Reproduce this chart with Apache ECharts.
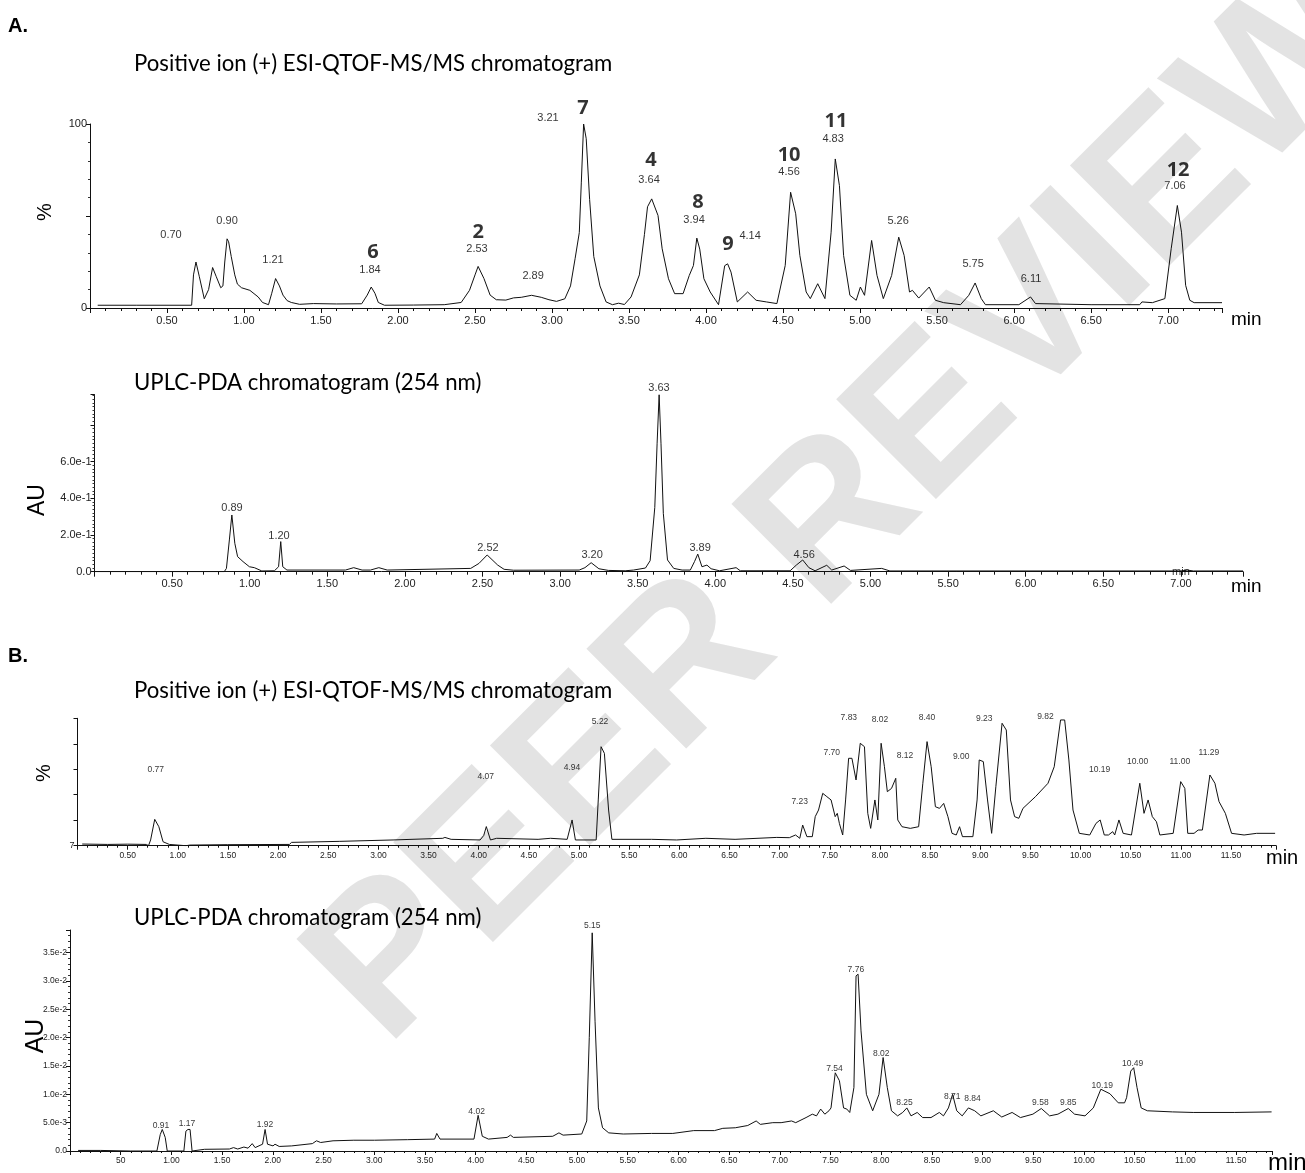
<!DOCTYPE html>
<html><head><meta charset="utf-8">
<script src="https://cdn.jsdelivr.net/npm/echarts@6/dist/echarts.min.js"></script>
<style>html,body{margin:0;padding:0;background:#fff}#c{width:1305px;height:1173px}</style>
</head><body><div id="c"></div>
<script>
// ---------- DATA ----------
// Panel A, positive ion ESI-QTOF-MS/MS chromatogram: [time (min), relative intensity (%)]
const aMs = [[0.05,1.5],[0.3,1.5],[0.5,1.5],[0.66,1.5],[0.672,18],[0.688,25],[0.71,17],[0.742,5],[0.77,10],[0.796,22],[0.82,17],[0.849,11],[0.863,12],[0.875,25],[0.89,37.6],[0.90,36],[0.917,28],[0.94,18],[0.957,13],[0.984,11],[1.038,9.6],[1.092,6],[1.12,3],[1.159,1.8],[1.18,8],[1.205,16],[1.23,12],[1.253,7],[1.28,4],[1.307,3],[1.361,2],[1.45,2.4],[1.6,2.2],[1.764,2.3],[1.80,7],[1.826,11.4],[1.85,8],[1.872,3],[1.912,1.5],[2.1,1.6],[2.3,1.8],[2.41,3],[2.464,9.6],[2.50,18],[2.52,22.6],[2.558,16],[2.598,7],[2.638,4.5],[2.70,4.3],[2.75,5.5],[2.80,5.8],[2.867,6.9],[2.93,5.8],[2.98,4.5],[3.029,3.6],[3.083,5],[3.12,12],[3.15,27],[3.177,41],[3.19,68],[3.205,100],[3.222,92],[3.244,59],[3.271,28],[3.311,12],[3.351,3.3],[3.392,1.8],[3.432,2.6],[3.47,1.9],[3.513,6],[3.567,18],[3.60,40],[3.62,55],[3.647,59.3],[3.688,50.3],[3.715,32.2],[3.756,15.9],[3.796,7.8],[3.851,7.8],[3.891,17.7],[3.918,23.1],[3.94,38],[3.959,32],[3.986,15.9],[4.027,8.7],[4.081,1.8],[4.121,23],[4.14,24],[4.162,19.5],[4.203,3.3],[4.27,8.7],[4.325,4.2],[4.392,3.3],[4.46,2.4],[4.514,23.1],[4.549,62.9],[4.582,51.2],[4.609,28.6],[4.65,8.7],[4.677,5.1],[4.725,13.2],[4.772,5.1],[4.812,41.2],[4.839,81],[4.866,66.5],[4.893,28.6],[4.934,6.9],[4.975,4.2],[5.002,11.4],[5.029,6.9],[5.075,36.7],[5.11,17.7],[5.151,5.1],[5.205,17.7],[5.251,38.5],[5.286,28.6],[5.321,8.7],[5.34,9.6],[5.381,5.4],[5.449,11.4],[5.489,4.2],[5.543,2.9],[5.652,1.8],[5.706,6.9],[5.747,13.6],[5.787,5.1],[5.814,1.8],[6.031,1.8],[6.107,6],[6.139,2.4],[6.5,1.8],[6.816,1.8],[6.83,3.3],[6.898,2.9],[6.979,5.1],[7.02,32.2],[7.06,55.7],[7.087,41.2],[7.114,12.3],[7.141,4.2],[7.169,2.9],[7.35,2.9]];
// Panel A, UPLC-PDA chromatogram (254 nm): [time (min), absorbance (AU)]
const aPda = [[0.0,0],[0.5,0],[0.836,0],[0.85,0.018],[0.869,0.173],[0.885,0.309],[0.904,0.155],[0.922,0.082],[0.957,0.055],[0.998,0.027],[1.03,0.022],[1.078,0.004],[1.159,0.005],[1.186,0.027],[1.20,0.164],[1.213,0.027],[1.24,0.009],[1.617,0.009],[1.67,0.022],[1.724,0.009],[1.778,0.009],[1.832,0.022],[1.886,0.009],[2.424,0.018],[2.477,0.045],[2.53,0.091],[2.598,0.036],[2.639,0.013],[2.7,0.008],[3.123,0.009],[3.16,0.022],[3.20,0.049],[3.25,0.016],[3.311,0.007],[3.419,0.005],[3.473,0.009],[3.55,0.02],[3.58,0.06],[3.61,0.35],[3.625,0.7],[3.638,0.964],[3.65,0.7],[3.665,0.318],[3.692,0.064],[3.732,0.018],[3.786,0.009],[3.839,0.009],[3.866,0.055],[3.887,0.096],[3.914,0.027],[3.946,0.036],[3.973,0.016],[4.027,0.005],[4.134,0.022],[4.161,0.005],[4.482,0.005],[4.522,0.036],[4.563,0.064],[4.603,0.022],[4.643,0.005],[4.718,0.035],[4.75,0.009],[4.83,0.031],[4.871,0.007],[5.072,0.018],[5.125,0.004],[7.0,0.004],[7.04,0.009],[7.08,0.004],[7.4,0.004]];
// Panel B, positive ion ESI-QTOF-MS/MS chromatogram: [time (min), relative intensity (%)]
const bMs = [[0.047,1.3],[0.3,1.0],[0.5,1.2],[0.687,1.0],[0.708,0],[0.729,4.5],[0.77,20.7],[0.811,14.9],[0.853,3.1],[0.915,1.0],[1.08,0],[1.121,0.5],[1.493,0.8],[2.113,1.0],[2.134,2.6],[2.609,3.4],[3.146,4.5],[3.642,5.8],[3.663,6.5],[3.725,5.0],[4.014,4.5],[4.05,8],[4.076,15],[4.117,4.5],[4.179,5.8],[4.592,5.0],[4.716,5.8],[4.882,5.0],[4.931,20.2],[4.964,4.5],[5.171,4.5],[5.192,35.9],[5.22,77.7],[5.253,72.5],[5.295,28],[5.328,5.0],[5.724,5.0],[5.974,4.5],[6.265,5.8],[6.556,5.0],[6.972,6.5],[7.097,6.3],[7.159,8.4],[7.201,5.8],[7.23,16.2],[7.272,7.1],[7.326,7.1],[7.355,22.8],[7.388,28],[7.43,41.1],[7.471,38.5],[7.513,35.9],[7.554,22.8],[7.575,25.4],[7.596,17.5],[7.629,8.4],[7.658,35.9],[7.688,68.6],[7.721,68.6],[7.762,51.6],[7.804,80.4],[7.846,77.7],[7.879,25.4],[7.908,13.6],[7.95,35.9],[7.979,20.2],[8.012,80.4],[8.045,62],[8.074,42.4],[8.116,45],[8.158,52.9],[8.178,20.2],[8.22,14.9],[8.303,13.6],[8.386,14.9],[8.428,49],[8.47,81.7],[8.511,62],[8.553,30.6],[8.594,29.3],[8.636,33.2],[8.678,22.8],[8.719,9.7],[8.761,8.4],[8.794,14.9],[8.823,7.1],[8.927,7.1],[8.969,35.9],[8.99,67.3],[9.031,66],[9.073,35.9],[9.114,9.7],[9.156,46.3],[9.218,96.1],[9.26,90.8],[9.302,35.9],[9.343,22.8],[9.385,21.5],[9.426,29.3],[9.551,38.5],[9.676,49],[9.738,62],[9.801,98.7],[9.842,98.7],[9.884,67.3],[9.925,28],[9.988,9.7],[10.092,8.4],[10.154,17.5],[10.196,20.2],[10.237,8.4],[10.279,8.4],[10.321,11],[10.341,8.4],[10.383,20.2],[10.425,9.7],[10.508,8.4],[10.591,49],[10.633,25.4],[10.674,35.9],[10.716,22.8],[10.757,18.8],[10.791,8.4],[10.924,9.7],[10.999,50.3],[11.04,45],[11.069,9.7],[11.132,9.7],[11.173,12.3],[11.215,12.3],[11.29,55.5],[11.34,49],[11.381,34.6],[11.444,25.4],[11.506,9.7],[11.631,8.4],[11.756,9.7],[11.94,9.7]];
// Panel B, UPLC-PDA chromatogram (254 nm): [time (min), absorbance (AU)]
const bPda = [[0.08,0.0001],[0.3,0.0001],[0.6,0],[0.857,0],[0.869,0.0002],[0.89,0.0029],[0.91,0.0038],[0.939,0.0024],[0.959,0],[1.123,0],[1.143,0.0035],[1.163,0.0038],[1.184,0.0038],[1.204,0],[1.327,0.0003],[1.572,0.00035],[1.613,0.0006],[1.654,0.00035],[1.715,0.0007],[1.756,0.0005],[1.797,0.0013],[1.826,0.0006],[1.899,0.0012],[1.924,0.0038],[1.948,0.0012],[2.002,0.0009],[2.022,0.0012],[2.063,0.0008],[2.186,0.0009],[2.39,0.0013],[2.431,0.0018],[2.472,0.0015],[2.594,0.0018],[2.799,0.0019],[3.003,0.0019],[3.33,0.002],[3.596,0.0021],[3.617,0.0031],[3.649,0.0021],[3.984,0.0021],[4.025,0.0063],[4.066,0.0026],[4.127,0.0021],[4.311,0.0024],[4.344,0.0028],[4.373,0.0024],[4.761,0.0026],[4.822,0.0032],[4.863,0.0028],[5.047,0.003],[5.096,0.0053],[5.121,0.02],[5.15,0.0385],[5.178,0.0229],[5.211,0.0076],[5.252,0.0041],[5.313,0.0032],[5.456,0.003],[5.734,0.0031],[5.945,0.0031],[6.151,0.0036],[6.356,0.0036],[6.438,0.004],[6.561,0.0041],[6.684,0.0045],[6.767,0.0053],[6.808,0.0047],[6.931,0.005],[7.013,0.005],[7.116,0.0053],[7.157,0.005],[7.259,0.0059],[7.321,0.0065],[7.362,0.0062],[7.403,0.0074],[7.444,0.0065],[7.485,0.0071],[7.505,0.0076],[7.547,0.0138],[7.588,0.0124],[7.629,0.0076],[7.661,0.0074],[7.69,0.0068],[7.731,0.0112],[7.752,0.0309],[7.772,0.0312],[7.801,0.0212],[7.854,0.01],[7.916,0.0071],[7.978,0.01],[8.019,0.0165],[8.06,0.0112],[8.101,0.0071],[8.162,0.0062],[8.212,0.0068],[8.253,0.0076],[8.294,0.0062],[8.355,0.0068],[8.409,0.0059],[8.491,0.0059],[8.573,0.0068],[8.614,0.0062],[8.663,0.0076],[8.704,0.01],[8.745,0.0071],[8.799,0.0062],[8.86,0.0076],[8.922,0.0071],[8.983,0.0062],[9.106,0.0071],[9.189,0.006],[9.291,0.0068],[9.373,0.0059],[9.496,0.0065],[9.579,0.0075],[9.661,0.0062],[9.743,0.0065],[9.845,0.0075],[9.907,0.0065],[10.01,0.0062],[10.092,0.0076],[10.166,0.0109],[10.256,0.0101],[10.338,0.0085],[10.4,0.0085],[10.42,0.0094],[10.461,0.0141],[10.49,0.0147],[10.523,0.0112],[10.564,0.0076],[10.625,0.0071],[10.872,0.0069],[11.077,0.0068],[11.487,0.0068],[11.85,0.0069]];

// Peak annotations: [label anchor time, label anchor value, text]
const aMsRtLabels = [[0.526,39.7,'0.70'],[0.89,47.3,'0.90'],[1.188,26.1,'1.21'],[1.818,20.7,'1.84'],[2.513,32.1,'2.53'],[2.877,17.4,'2.89'],[2.974,103.3,'3.21'],[3.63,69.6,'3.64'],[3.922,47.8,'3.94'],[4.286,39.1,'4.14'],[4.539,73.9,'4.56'],[4.825,91.8,'4.83'],[5.247,47.3,'5.26'],[5.734,23.9,'5.75'],[6.11,15.8,'6.11'],[7.045,66.3,'7.06']];
const aMsPeakNumbers = [[1.838,30.4,'6'],[2.52,41.3,'2'],[3.2,108.7,'7'],[3.643,80.4,'4'],[3.948,57.6,'8'],[4.143,34.8,'9'],[4.539,83.2,'10'],[4.844,101.6,'11'],[7.065,75,'12']];
const aPdaRtLabels = [[0.886,0.347,'0.89'],[1.189,0.195,'1.20'],[2.535,0.129,'2.52'],[3.206,0.091,'3.20'],[3.637,1.0,'3.63'],[3.902,0.129,'3.89'],[4.572,0.091,'4.56'],[7.0,0.0,'min']];
const bMsRtLabels = [[0.78,59.4,'0.77'],[4.07,54,'4.07'],[4.93,61,'4.94'],[5.21,97,'5.22'],[7.20,34.5,'7.23'],[7.52,73.2,'7.70'],[7.69,100.2,'7.83'],[8.0,98.7,'8.02'],[8.25,70.5,'8.12'],[8.47,100.2,'8.40'],[8.81,69.8,'9.00'],[9.04,99.4,'9.23'],[9.65,101.5,'9.82'],[10.19,59.4,'10.19'],[10.57,66.3,'10.00'],[10.99,66.3,'11.00'],[11.28,73.2,'11.29']];
const bPdaRtLabels = [[0.897,0.0044,'0.91'],[1.154,0.0048,'1.17'],[1.923,0.0046,'1.92'],[4.01,0.007,'4.02'],[5.15,0.0398,'5.15'],[7.54,0.0146,'7.54'],[7.75,0.032,'7.76'],[8.0,0.0171,'8.02'],[8.23,0.0085,'8.25'],[8.70,0.0096,'8.71'],[8.9,0.0092,'8.84'],[9.57,0.0085,'9.58'],[9.845,0.0086,'9.85'],[10.18,0.0116,'10.19'],[10.48,0.0155,'10.49']];

// Text
const panelLetters = ['A.', 'B.'];
const panelTitles = ['Positive ion (+) ESI-QTOF-MS/MS chromatogram', 'UPLC-PDA chromatogram (254 nm)', 'Positive ion (+) ESI-QTOF-MS/MS chromatogram', 'UPLC-PDA chromatogram (254 nm)'];
const yNames = ['%', 'AU', '%', 'AU'];
const xName = 'min';
const watermark = 'PEER REVIEW';

// ---------- CHART ----------
const NARROW = '"Liberation Sans Narrow","Liberation Sans",Arial,sans-serif';
const SANS = '"Liberation Sans",Arial,sans-serif';
const TITLE_FONT = 'Lato,"Open Sans","Noto Sans",sans-serif';
const NUM_FONT = '"Open Sans","Noto Sans",sans-serif';

function isHalf(v){ return Math.abs(v*2 - Math.round(v*2)) < 1e-6; }
function expFmt(v){
  if (Math.abs(v) < 1e-12) return '0.0';
  const e = Math.floor(Math.log10(v) + 1e-9);
  const m = v / Math.pow(10, e);
  return m.toFixed(1) + 'e' + e;
}

const grids = [
  {left:90, top:124, width:1132, height:184},
  {left:94.5, top:394.6, width:1148.5, height:177.1},
  {left:77.5, top:718.3, width:1198.6, height:127.4},
  {left:70, top:930, width:1202.6, height:221}
];

const axisLineStyle = {lineStyle:{color:'#111', width:1}};
function xAxisCfg(i, max, fontSize, fmt, tickLen){
  return {
    gridIndex:i, type:'value', min:0, max:max, interval:0.5,
    axisLine: axisLineStyle,
    axisTick:{show:true, length:tickLen, lineStyle:{color:'#111'}},
    minorTick:{show:true, splitNumber:5, length:Math.max(2, tickLen-2), lineStyle:{color:'#111'}},
    splitLine:{show:false}, minorSplitLine:{show:false},
    axisLabel:{formatter:fmt, fontSize:fontSize, color:'#222', margin: fontSize > 10 ? 7 : 5, fontFamily:NARROW, showMaxLabel:true, showMinLabel:true}
  };
}
const fmtA = v => (v > 0.01 && isHalf(v)) ? v.toFixed(2) : '';
const fmtB = v => (v > 0.01 && isHalf(v)) ? v.toFixed(2) : '';
const fmtB2 = v => (v > 0.01 && isHalf(v)) ? (Math.abs(v - 0.5) < 1e-6 ? '50' : v.toFixed(2)) : '';

const xAxes = [
  xAxisCfg(0, 7.35, 11, fmtA, 5),
  xAxisCfg(1, 7.4, 11, fmtA, 5),
  xAxisCfg(2, 11.95, 8.5, fmtB, 4),
  xAxisCfg(3, 11.86, 8.5, fmtB2, 4)
];

function yAxisCfg(i, max, interval, minorSplit, fmt, fontSize){
  return {
    gridIndex:i, type:'value', min:0, max:max, interval:interval,
    axisLine:{show:true, lineStyle:{color:'#111', width:1}},
    axisTick:{show:true, length:4, lineStyle:{color:'#111'}},
    minorTick:{show: minorSplit > 0, splitNumber: minorSplit || 5, length:2, lineStyle:{color:'#333'}},
    splitLine:{show:false}, minorSplitLine:{show:false},
    axisLabel:{formatter:fmt, fontSize:fontSize, color:'#222', margin:3, fontFamily:NARROW}
  };
}
const yAxes = [
  yAxisCfg(0, 100, 50, 5, v => (v === 0 || v === 100) ? String(v) : '', 11),
  yAxisCfg(1, 0.965, 0.2, 10, v => v < 1e-9 ? '0.0' : (v < 0.61 ? expFmt(v) : ''), 11),
  yAxisCfg(2, 100, 20, 0, v => v === 0 ? '7' : '', 9),
  yAxisCfg(3, 0.039, 0.005, 5, v => v < 1e-9 ? '0.0' : (v < 0.0352 ? expFmt(v) : ''), 8.5)
];

function lineSeries(i, data){
  return {type:'line', xAxisIndex:i, yAxisIndex:i, data:data, showSymbol:false, symbol:'none',
    lineStyle:{color:'#111', width:1}, animation:false, silent:true, z:3};
}
function labelSeries(i, arr, fontSize, bold, family){
  return {type:'scatter', xAxisIndex:i, yAxisIndex:i, symbolSize:0.1, clip:false, silent:true, animation:false,
    itemStyle:{color:'rgba(0,0,0,0)'}, z:4,
    data: arr.map(d => ({value:[d[0], d[1]], label:{formatter: d[2]}})),
    label:{show:true, position:'inside', color:'#000', fontSize:fontSize, fontWeight: bold ? 'bold' : 'normal', fontFamily: family}
  };
}

const series = [
  lineSeries(0, aMs), lineSeries(1, aPda), lineSeries(2, bMs), lineSeries(3, bPda),
  labelSeries(0, aMsRtLabels, 11, false, NARROW),
  labelSeries(0, aMsPeakNumbers, 20, true, NUM_FONT),
  labelSeries(1, aPdaRtLabels, 11, false, NARROW),
  labelSeries(2, bMsRtLabels, 8.5, false, NARROW),
  labelSeries(3, bPdaRtLabels, 8.5, false, NARROW)
];

function txt(x, y, text, font, opt){
  opt = opt || {};
  return {type:'text', x:x, y:y, rotation: opt.rotation || 0, z: opt.z == null ? 10 : opt.z, silent:true,
    style:{text:text, font:font, fill: opt.fill || '#000', align: opt.align || 'left', verticalAlign: opt.va || 'middle',
      textAlign: opt.align || 'left', textVerticalAlign: opt.va || 'middle'}};
}

const graphics = [
  txt(850, 505, watermark, 'bold 205px "Liberation Sans", Arial, sans-serif', {rotation: Math.PI/4, align:'center', fill:'rgba(200,200,200,0.5)', z:-5}),
  txt(8, 26, panelLetters[0], 'bold 20px ' + SANS),
  txt(8, 656, panelLetters[1], 'bold 20px ' + SANS),
  txt(134, 64, panelTitles[0], '22.2px ' + TITLE_FONT),
  txt(134, 383, panelTitles[1], '22.2px ' + TITLE_FONT),
  txt(134, 691, panelTitles[2], '22.2px ' + TITLE_FONT),
  txt(134, 918, panelTitles[3], '22.2px ' + TITLE_FONT),
  txt(45, 212, yNames[0], '20px ' + SANS, {rotation: Math.PI/2, align:'center'}),
  txt(38, 500, yNames[1], '23px ' + SANS, {rotation: Math.PI/2, align:'center'}),
  txt(44, 773, yNames[2], '20px ' + SANS, {rotation: Math.PI/2, align:'center'}),
  txt(36, 1036, yNames[3], '25px ' + SANS, {rotation: Math.PI/2, align:'center'}),
  txt(1231, 320, xName, '19px ' + SANS),
  txt(1231, 587, xName, '19px ' + SANS),
  txt(1266, 858, xName, '20px ' + SANS),
  txt(1268, 1163, xName, '24px ' + SANS)
];

const chart = echarts.init(document.getElementById('c'), null, {renderer:'canvas'});
chart.setOption({
  animation:false,
  backgroundColor:'#ffffff',
  grid: grids,
  xAxis: xAxes,
  yAxis: yAxes,
  series: series,
  graphic: {elements: graphics}
});
</script>
</body></html>
